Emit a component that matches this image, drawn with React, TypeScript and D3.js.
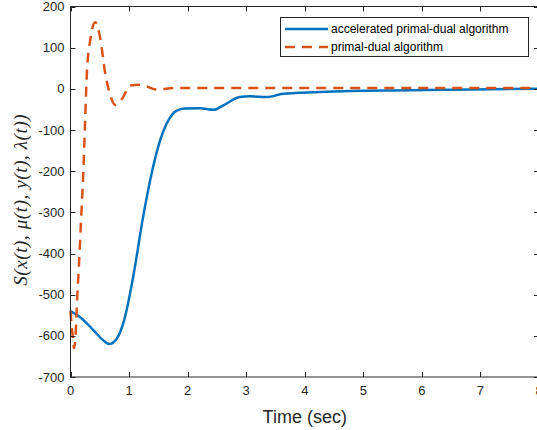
import React, { useEffect, useRef } from "react";
import * as d3 from "d3";

// values
const acceleratedT = [0, 0.16, 0.39, 0.56, 0.66, 0.79, 0.92, 1.07, 1.24, 1.41, 1.53, 1.64, 1.75, 1.85, 1.95, 2.21, 2.44, 2.61, 2.89, 3.06, 3.35, 3.63, 3.92, 4.2, 4.77, 5.5, 6.5, 8];
const acceleratedY = [-540, -554, -586, -611, -620, -607, -560, -457, -311, -190, -125, -85, -60, -51, -48, -47, -51, -40, -20, -18, -20, -12, -9.5, -8, -5.5, -4, -2, 0];

const primalT = [0, 0.03, 0.06, 0.09, 0.11, 0.14, 0.18, 0.22, 0.25, 0.28, 0.34, 0.42, 0.51, 0.59, 0.68, 0.76, 0.88, 1.02, 1.19, 1.47, 1.8, 3, 5, 8];
const primalY = [-540, -590, -630, -590, -521, -441, -320, -198, -77, 40, 121, 162, 121, 40, -16, -39, -24, 8, 10, -1.5, 2, 2, 2, 2];

const xTicks = [0, 1, 2, 3, 4, 5, 6, 7, 8];
const yTicks = [200, 100, 0, -100, -200, -300, -400, -500, -600, -700];

const seriesNames = ["accelerated primal-dual algorithm", "primal-dual algorithm"];

const App = () => {
    const ref = useRef<SVGSVGElement>(null);

    useEffect(() => {
        const width = 537;
        const height = 430;
        const margin = { top: 6.5, right: -2, bottom: 53, left: 70.5 };
        const axisColor = "#262626";
        const blue = "#0072BD";
        const orange = "#D95319";

        const svg = d3.select(ref.current)
            .attr("width", width)
            .attr("height", height);
        svg.selectAll("*").remove();

        const x = d3.scaleLinear().domain([0, 8]).range([margin.left, width - margin.right]);
        const y = d3.scaleLinear().domain([-700, 200]).range([height - margin.bottom, margin.top]);

        const x0 = x(0), x1 = x(8), yTop = y(200), yBot = y(-700);

        svg.append("rect")
            .attr("x", x0).attr("y", yTop)
            .attr("width", x1 - x0).attr("height", yBot - yTop)
            .attr("fill", "white");

        const line = d3.line<[number, number]>()
            .x(d => x(d[0]))
            .y(d => y(d[1]))
            .curve(d3.curveMonotoneX);

        const blueData = acceleratedT.map((t, i) => [t, acceleratedY[i]] as [number, number]);
        const redData = primalT.map((t, i) => [t, primalY[i]] as [number, number]);

        svg.append("path")
            .datum(blueData)
            .attr("fill", "none")
            .attr("stroke", blue)
            .attr("stroke-width", 2.5)
            .attr("d", line);

        svg.append("path")
            .datum(redData)
            .attr("fill", "none")
            .attr("stroke", orange)
            .attr("stroke-width", 2.5)
            .attr("stroke-dasharray", "10,7")
            .attr("d", line);

        // box and ticks (MATLAB style, ticks inward)
        const g = svg.append("g").attr("stroke", axisColor).attr("stroke-width", 1).attr("fill", "none");
        g.append("line").attr("x1", x0).attr("x2", x1).attr("y1", yBot).attr("y2", yBot);
        g.append("line").attr("x1", x0).attr("x2", x1).attr("y1", yTop).attr("y2", yTop);
        g.append("line").attr("x1", x0).attr("x2", x0).attr("y1", yTop).attr("y2", yBot);
        g.append("line").attr("x1", x1).attr("x2", x1).attr("y1", yTop).attr("y2", yBot);

        xTicks.forEach(t => {
            const px = Math.round(x(t)) + 0.5;
            g.append("line").attr("x1", px).attr("x2", px).attr("y1", yBot).attr("y2", yBot - 5);
            g.append("line").attr("x1", px).attr("x2", px).attr("y1", yTop).attr("y2", yTop + 5);
        });
        yTicks.forEach(v => {
            const py = Math.round(y(v)) + 0.5;
            g.append("line").attr("x1", x0).attr("x2", x0 + 5).attr("y1", py).attr("y2", py);
            g.append("line").attr("x1", x1).attr("x2", x1 - 5).attr("y1", py).attr("y2", py);
        });

        const font = "'Liberation Sans', Arial, Helvetica, sans-serif";

        svg.append("g").selectAll("text").data(xTicks).enter()
            .append("text")
            .attr("x", d => x(d))
            .attr("y", yBot + 18)
            .attr("text-anchor", "middle")
            .style("font-family", font)
            .style("font-size", "13px")
            .style("fill", axisColor)
            .text(d => d);

        svg.append("g").selectAll("text").data(yTicks).enter()
            .append("text")
            .attr("x", x0 - 6)
            .attr("y", d => y(d) + 4.5)
            .attr("text-anchor", "end")
            .style("font-family", font)
            .style("font-size", "13px")
            .style("fill", axisColor)
            .text(d => d);

        svg.append("text")
            .attr("x", (x0 + x1) / 2)
            .attr("y", 423)
            .attr("text-anchor", "middle")
            .style("font-family", font)
            .style("font-size", "18px")
            .style("fill", axisColor)
            .text("Time (sec)");

        svg.append("text")
            .attr("transform", `translate(27,${(yTop + yBot) / 2 + 8}) rotate(-90)`)
            .attr("text-anchor", "middle")
            .style("font-family", "'Liberation Serif', 'DejaVu Serif', serif")
            .style("font-style", "italic")
            .style("font-size", "19px")
            .style("letter-spacing", "0.6px")
            .style("fill", axisColor)
            .text("S(x(t), \u03bc(t), y(t), \u03bb(t))");

        // legend
        const legend = svg.append("g");
        legend.append("rect")
            .attr("x", 280.5).attr("y", 17.5)
            .attr("width", 248).attr("height", 39)
            .attr("fill", "white")
            .attr("stroke", axisColor)
            .attr("stroke-width", 1);
        const colors = [blue, orange];
        const dashes = [null, "10,7"];
        seriesNames.forEach((name, i) => {
            const ly = 29 + i * 18;
            legend.append("line")
                .attr("x1", 285).attr("x2", 328)
                .attr("y1", ly).attr("y2", ly)
                .attr("stroke", colors[i])
                .attr("stroke-width", 2.5)
                .attr("stroke-dasharray", dashes[i]);
            legend.append("text")
                .attr("x", 331)
                .attr("y", ly + 4)
                .style("font-family", font)
                .style("font-size", "12px")
                .style("fill", "#000")
                .text(name);
        });
    }, []);

    return (
        <div style={{ position: "absolute", left: 0, top: 0 }}>
            <svg ref={ref}></svg>
        </div>
    );
};

export default App;
